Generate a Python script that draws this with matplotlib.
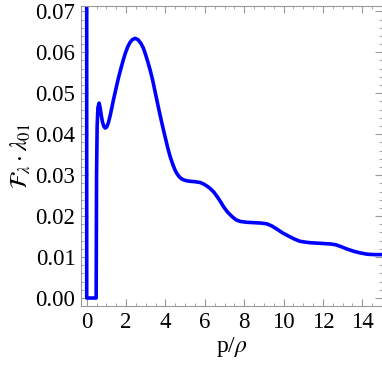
import numpy as np
import matplotlib
matplotlib.use('Agg')
import matplotlib.pyplot as plt
from matplotlib.ticker import MultipleLocator, FormatStrFormatter

# curve: p/rho and F_lambda * lambda_01
p_rho = [0.0, 0.0, 0.48, 0.50, 0.53, 0.57, 0.63, 0.68, 0.74, 0.80, 0.87, 0.94,
         1.02, 1.10, 1.20, 1.35, 1.50, 1.62, 1.73, 1.85, 1.95, 2.08, 2.20,
         2.32, 2.46, 2.60, 2.75, 2.88, 3.00, 3.12, 3.22, 3.35, 3.45, 3.56,
         3.68, 3.80, 3.90, 4.00, 4.12, 4.24, 4.36, 4.48, 4.58, 4.70, 4.82,
         4.95, 5.10, 5.26, 5.50, 5.77, 5.95, 6.12, 6.28, 6.45, 6.62, 6.80,
         6.95, 7.15, 7.38, 7.58, 7.80, 8.10, 8.48, 8.85, 9.16, 9.40, 9.67,
         9.95, 10.26, 10.55, 10.80, 11.02, 11.35, 11.70, 12.05, 12.38,
         12.65, 12.89, 13.20, 13.57, 13.90, 14.25, 14.60, 15.0]
F_lambda = [0.09, 0.0, 0.0, 0.030, 0.042, 0.0465, 0.0476, 0.0465, 0.0446, 0.0430,
            0.0419, 0.0415, 0.0418, 0.0428, 0.0447, 0.0482, 0.0514, 0.0539,
            0.0559, 0.0580, 0.0596, 0.0613, 0.0624, 0.0631, 0.0634, 0.0631,
            0.0622, 0.0610, 0.0593, 0.0574, 0.0557, 0.0532, 0.0509, 0.0484,
            0.0457, 0.0431, 0.0410, 0.0390, 0.0366, 0.0345, 0.0328, 0.0313,
            0.0304, 0.0296, 0.0291, 0.0288, 0.0286, 0.0285, 0.0284, 0.0282,
            0.0278, 0.0273, 0.0267, 0.0259, 0.0248, 0.0235, 0.0223, 0.0210,
            0.0199, 0.0191, 0.0187, 0.0185, 0.0184, 0.0183, 0.0181, 0.0176,
            0.0168, 0.0159, 0.0151, 0.0144, 0.0139, 0.0137, 0.0135, 0.0134,
            0.0133, 0.0132, 0.0130, 0.0126, 0.0120, 0.0114, 0.0110, 0.0107,
            0.0106, 0.0106]

plt.rcParams['font.family'] = ['Liberation Serif', 'DejaVu Serif']
plt.rcParams['mathtext.fontset'] = 'stix'

fig = plt.figure(figsize=(3.82, 3.68), dpi=100)
ax = fig.add_axes([81/382, 1-306/368, 301/382, 300/368])

ax.plot(p_rho, F_lambda, color='#0000ff', lw=2.6, solid_joinstyle='round')

ax.set_xlim(-0.29, 15.0)
ax.set_ylim(-0.00195, 0.0713)

ax.xaxis.set_major_locator(MultipleLocator(2))
ax.xaxis.set_minor_locator(MultipleLocator(0.5))
ax.yaxis.set_major_locator(MultipleLocator(0.01))
ax.yaxis.set_minor_locator(MultipleLocator(0.002))
ax.yaxis.set_major_formatter(FormatStrFormatter('%.2f'))

for s in ax.spines.values():
    s.set_color('#999999')
    s.set_linewidth(0.8)
ax.tick_params(which='both', direction='in', top=True, right=True,
               color='#999999', labelsize=16.5, pad=4)
ax.tick_params(which='major', length=5, width=0.8)
ax.tick_params(which='minor', length=2.5, width=0.6)

ax.set_xlabel(r'p/$\rho$', fontsize=17, labelpad=2)
ax.set_ylabel(r'$\mathcal{F}_{\lambda}\cdot\lambda_{01}$', fontsize=17, labelpad=2)

fig.savefig('out.png', dpi=100)
